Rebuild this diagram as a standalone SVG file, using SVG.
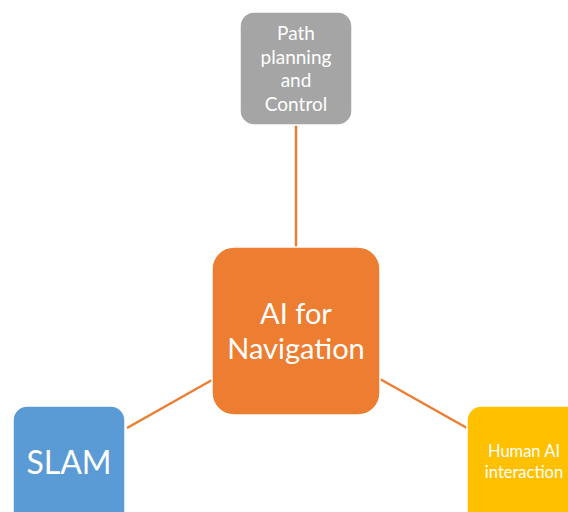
<svg xmlns="http://www.w3.org/2000/svg" width="568" height="512" viewBox="0 0 568 512">
  <style>
    .box { stroke: #ffffff; stroke-width: 1.5; }
    .lbl { fill: #ffffff; font-family: Lato, "Open Sans", "Liberation Sans", sans-serif; text-anchor: middle; }
    .link { stroke: #ED7D31; stroke-width: 2.5; fill: none; }
  </style>
  <rect width="568" height="512" fill="#ffffff"/>
  <g id="connectors">
    <line class="link" x1="296" y1="125" x2="296" y2="247"/>
    <line class="link" x1="212" y1="380" x2="127" y2="428"/>
    <line class="link" x1="380" y1="379" x2="467" y2="428"/>
  </g>
  <g id="path-planning">
    <rect class="box" x="240" y="12" width="112" height="113" rx="14" fill="#A5A5A5"/>
    <text class="lbl" font-size="19" x="296" y="40">Path</text>
    <text class="lbl" font-size="19" x="296" y="64">planning</text>
    <text class="lbl" font-size="19" x="296" y="87">and</text>
    <text class="lbl" font-size="19" x="296" y="111">Control</text>
  </g>
  <g id="ai-navigation">
    <rect class="box" x="212" y="247" width="168" height="168" rx="22" fill="#ED7D31"/>
    <text class="lbl" font-size="29" x="296" y="324">AI for</text>
    <text class="lbl" font-size="29" x="296" y="359">Navigation</text>
  </g>
  <g id="slam">
    <rect class="box" x="13" y="406" width="112" height="130" rx="14" fill="#5B9BD5"/>
    <text class="lbl" font-size="32" x="69" y="474">SLAM</text>
  </g>
  <g id="human-ai">
    <rect class="box" x="467" y="406" width="130" height="130" rx="14" fill="#FFC000"/>
    <text class="lbl" font-size="16.5" x="524" y="457">Human AI</text>
    <text class="lbl" font-size="16.5" x="524" y="478">interaction</text>
  </g>
</svg>
